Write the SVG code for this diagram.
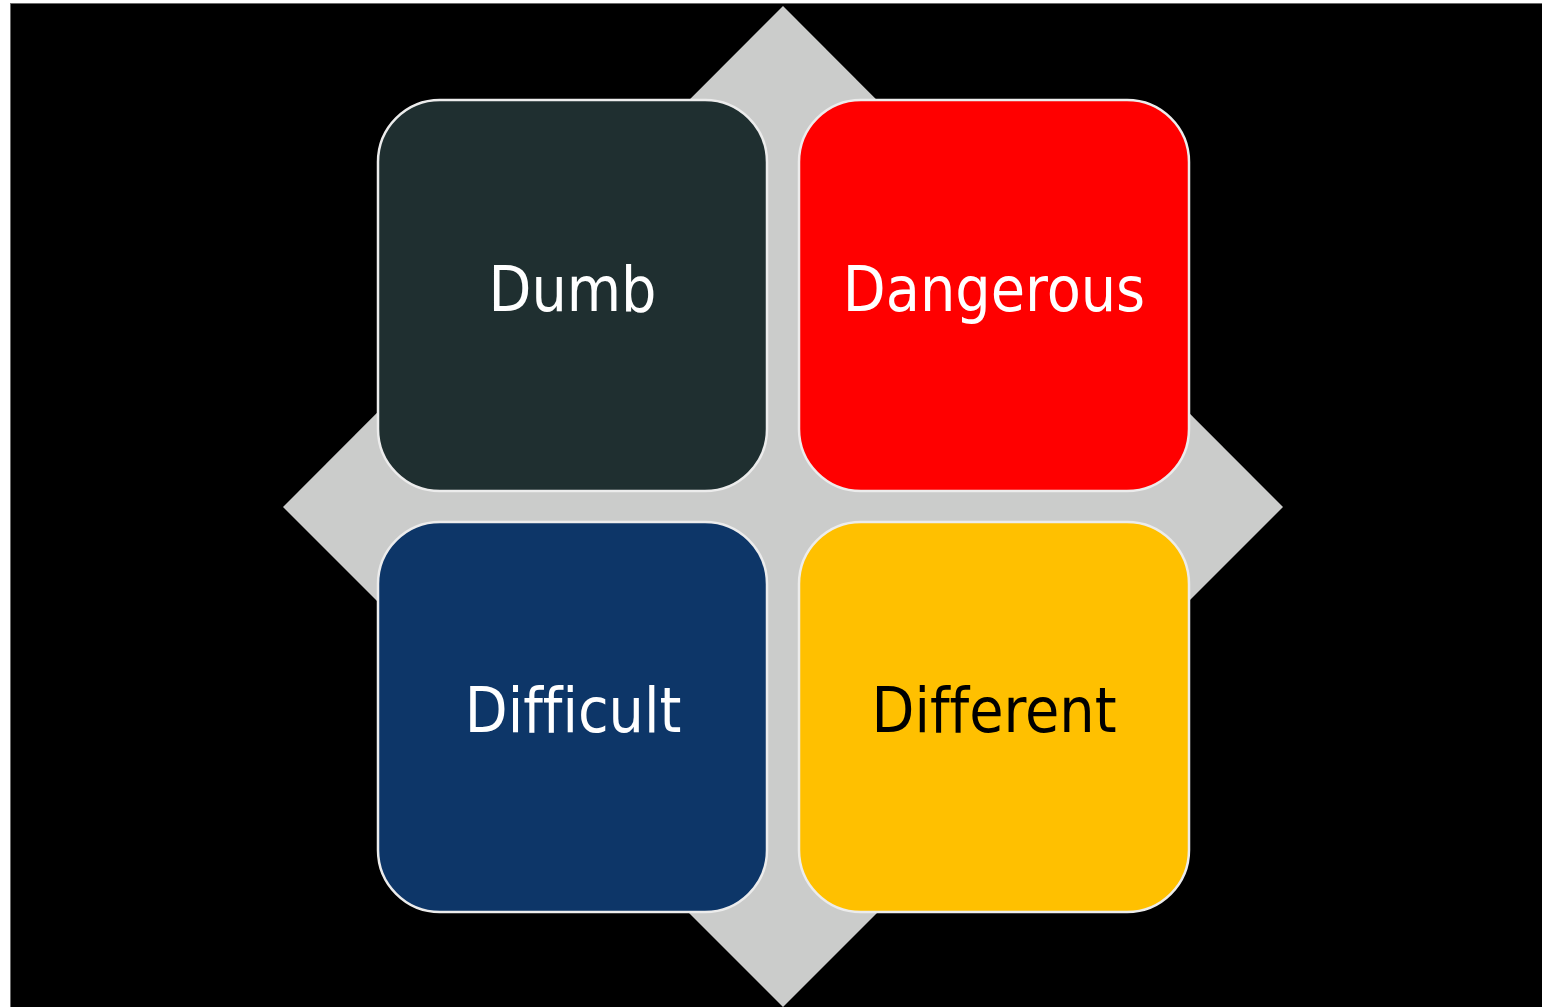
<svg xmlns="http://www.w3.org/2000/svg" width="1542" height="1007" viewBox="0 0 1542 1007">
<style>
.box{stroke:#ECECEC;stroke-width:2.5}
.lbl{font-family:"DejaVu Sans Condensed","DejaVu Sans",sans-serif;font-size:62px;text-anchor:middle;font-variant-ligatures:none;font-feature-settings:"liga" 0}
</style>
<rect x="0" y="0" width="1542" height="1007" fill="#FFFFFF"/>
<rect x="10.5" y="3.5" width="1532" height="1004" fill="#000000" stroke="#6A6A6A" stroke-width="1"/>
<polygon id="diamond" points="783,6 1283,507 783,1007 283,507" fill="#CBCCCB"/>
<g id="connectors"></g>
<g id="dumb">
<rect class="box" x="378" y="100" width="389" height="391" rx="62" fill="#1F2F30"/>
<text class="lbl" x="572.5" y="311" fill="#FFFFFF">Dumb</text>
</g>
<g id="dangerous">
<rect class="box" x="799" y="100" width="390" height="391" rx="62" fill="#FF0000"/>
<text class="lbl" x="994" y="311" fill="#FFFFFF">Dangerous</text>
</g>
<g id="difficult">
<rect class="box" x="378" y="522" width="389" height="390" rx="62" fill="#0D3668"/>
<text class="lbl" x="573" y="732" fill="#FFFFFF">Difficult</text>
</g>
<g id="different">
<rect class="box" x="799" y="522" width="390" height="390" rx="62" fill="#FFC000"/>
<text class="lbl" x="994" y="732" fill="#000000">Different</text>
</g>
</svg>
